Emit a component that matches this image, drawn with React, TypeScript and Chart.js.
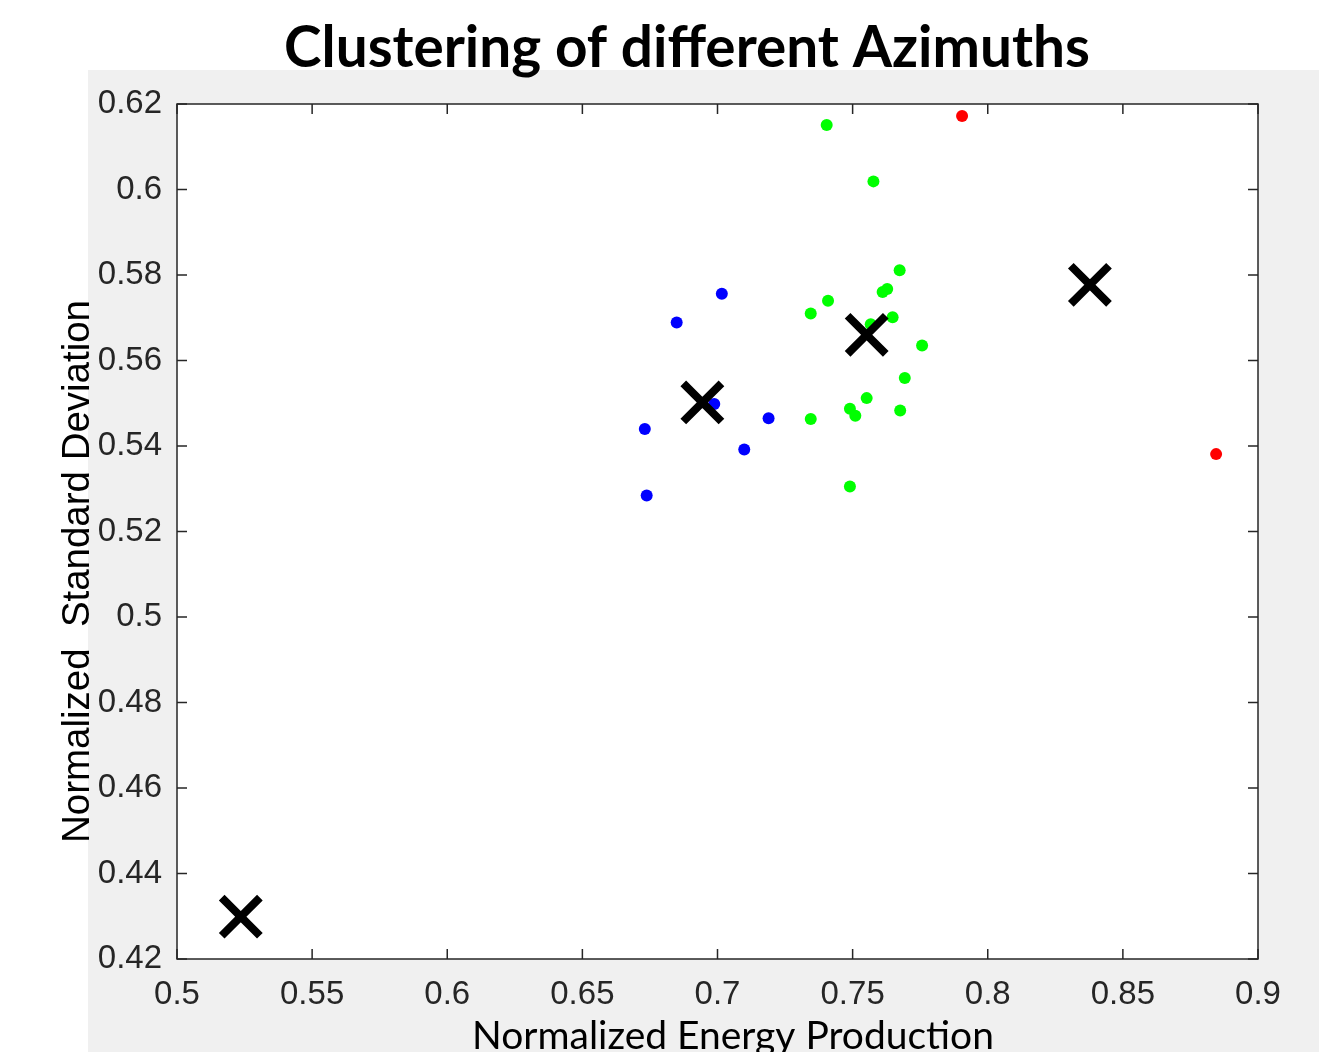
import React, { useEffect, useRef } from 'react';
import { Chart, registerables } from 'chart.js';

Chart.register(...registerables);

const TITLE = 'Clustering of different Azimuths';
const X_TITLE = 'Normalized Energy Production';
const Y_TITLE = 'Normalized  Standard Deviation';

const xTickValues = [0.5, 0.55, 0.6, 0.65, 0.7, 0.75, 0.8, 0.85, 0.9];
const xTickLabels = ['0.5', '0.55', '0.6', '0.65', '0.7', '0.75', '0.8', '0.85', '0.9'];
const yTickValues = [0.42, 0.44, 0.46, 0.48, 0.5, 0.52, 0.54, 0.56, 0.58, 0.6, 0.62];
const yTickLabels = ['0.42', '0.44', '0.46', '0.48', '0.5', '0.52', '0.54', '0.56', '0.58', '0.6', '0.62'];

const blueX = [0.6731, 0.6738, 0.6849, 0.6988, 0.7016, 0.7099, 0.7189];
const blueY = [0.544, 0.5284, 0.5689, 0.5498, 0.5756, 0.5392, 0.5465];

const greenX = [0.7404, 0.7577, 0.7674, 0.7611, 0.7628, 0.7409, 0.7345, 0.7648, 0.7567, 0.7757, 0.7693, 0.7552, 0.749, 0.751, 0.7676, 0.7345, 0.749];
const greenY = [0.6151, 0.6019, 0.5811, 0.576, 0.5767, 0.574, 0.571, 0.5701, 0.5685, 0.5635, 0.5559, 0.5512, 0.5487, 0.5471, 0.5483, 0.5463, 0.5305];

const redX = [0.7905, 0.8845];
const redY = [0.6172, 0.5381];

const centroidX = [0.7552, 0.6944, 0.8378, 0.5236];
const centroidY = [0.566, 0.5502, 0.5777, 0.4299];

const TICK_FONT = "'Liberation Sans', Arial, sans-serif";
const TICK_COLOR = '#262626';

const pts = (xs: number[], ys: number[]) => xs.map((x, i) => ({ x, y: ys[i] }));

const labelFor = (values: number[], labels: string[]) => (v: any) => {
  const i = values.findIndex((t) => Math.abs(t - Number(v)) < 1e-9);
  return i >= 0 ? labels[i] : '';
};

function fitSize(ctx: CanvasRenderingContext2D, text: string, weight: string, family: string, target: number) {
  ctx.font = `${weight} 100px ${family}`;
  const w = ctx.measureText(text).width;
  return (100 * target) / w;
}

const decorPlugin = {
  id: 'decor',
  beforeDraw(chart: any) {
    const { ctx, width, height, chartArea: a } = chart;
    ctx.save();
    ctx.fillStyle = '#ffffff';
    ctx.fillRect(0, 0, width, height);
    ctx.fillStyle = '#f0f0f0';
    ctx.fillRect(88, 70, width - 88, height - 70);
    ctx.fillStyle = '#ffffff';
    ctx.fillRect(a.left, a.top, a.right - a.left, a.bottom - a.top);
    ctx.restore();
  },
  afterDraw(chart: any) {
    const { ctx, chartArea: a, scales } = chart;
    ctx.save();
    ctx.strokeStyle = TICK_COLOR;
    ctx.lineWidth = 1.5;
    ctx.strokeRect(a.left, a.top, a.right - a.left, a.bottom - a.top);
    const L = 10;
    ctx.beginPath();
    scales.x.ticks.forEach((t: any) => {
      const px = scales.x.getPixelForValue(t.value);
      ctx.moveTo(px, a.bottom);
      ctx.lineTo(px, a.bottom - L);
      ctx.moveTo(px, a.top);
      ctx.lineTo(px, a.top + L);
    });
    scales.y.ticks.forEach((t: any) => {
      const py = scales.y.getPixelForValue(t.value);
      ctx.moveTo(a.left, py);
      ctx.lineTo(a.left + L, py);
      ctx.moveTo(a.right, py);
      ctx.lineTo(a.right - L, py);
    });
    ctx.stroke();

    // main title
    ctx.fillStyle = '#000000';
    ctx.textAlign = 'center';
    ctx.textBaseline = 'alphabetic';
    const tFam = "Lato, 'Open Sans', sans-serif";
    const ts = fitSize(ctx, TITLE, 'bold', tFam, 806);
    ctx.font = `bold ${ts}px ${tFam}`;
    ctx.fillText(TITLE, 687, 67);

    // x axis title
    const xs = fitSize(ctx, X_TITLE, 'normal', tFam, 522);
    ctx.font = `normal ${xs}px ${tFam}`;
    ctx.fillText(X_TITLE, 733, 1049);

    // y axis title
    const ys = fitSize(ctx, Y_TITLE, 'normal', TICK_FONT, 543);
    ctx.font = `normal ${ys}px ${TICK_FONT}`;
    ctx.translate(89, 571.5);
    ctx.rotate(-Math.PI / 2);
    ctx.fillText(Y_TITLE, 0, 0);
    ctx.restore();
  },
};

export default function App() {
  const ref = useRef<HTMLCanvasElement | null>(null);

  useEffect(() => {
    if (!ref.current) return;
    const chart = new Chart(ref.current, {
      type: 'scatter',
      data: {
        datasets: [
          {
            label: 'Centroids',
            data: pts(centroidX, centroidY),
            pointStyle: 'crossRot',
            pointRadius: 27,
            pointBorderWidth: 8,
            borderColor: '#000000',
            backgroundColor: '#000000',
          },
          {
            label: 'Cluster 1',
            data: pts(blueX, blueY),
            pointRadius: 6,
            pointBorderWidth: 0,
            backgroundColor: '#0000ff',
            borderColor: '#0000ff',
          },
          {
            label: 'Cluster 2',
            data: pts(greenX, greenY),
            pointRadius: 6,
            pointBorderWidth: 0,
            backgroundColor: '#00ff00',
            borderColor: '#00ff00',
          },
          {
            label: 'Cluster 3',
            data: pts(redX, redY),
            pointRadius: 6,
            pointBorderWidth: 0,
            backgroundColor: '#ff0000',
            borderColor: '#ff0000',
          },
        ],
      } as any,
      options: {
        responsive: false,
        animation: false,
        events: [],
        layout: { padding: { top: 104, right: 61, left: 0, bottom: 0 } },
        plugins: {
          legend: { display: false },
          tooltip: { enabled: false },
          title: { display: false },
        },
        scales: {
          x: {
            type: 'linear',
            min: 0.5,
            max: 0.9,
            grid: { display: false, drawTicks: false },
            border: { display: false },
            afterBuildTicks: (s: any) => {
              s.ticks = xTickValues.map((value) => ({ value }));
            },
            afterFit: (s: any) => {
              s.height = 93;
            },
            ticks: {
              font: { family: TICK_FONT, size: 33 },
              color: TICK_COLOR,
              padding: 16,
              maxRotation: 0,
              autoSkip: false,
              callback: labelFor(xTickValues, xTickLabels),
            },
          },
          y: {
            type: 'linear',
            min: 0.42,
            max: 0.62,
            grid: { display: false, drawTicks: false },
            border: { display: false },
            afterBuildTicks: (s: any) => {
              s.ticks = yTickValues.map((value) => ({ value }));
            },
            afterFit: (s: any) => {
              s.width = 177;
            },
            ticks: {
              font: { family: TICK_FONT, size: 33 },
              color: TICK_COLOR,
              padding: 15,
              autoSkip: false,
              callback: labelFor(yTickValues, yTickLabels),
            },
          },
        },
      } as any,
      plugins: [decorPlugin],
    });
    return () => chart.destroy();
  }, []);

  return (
    <div style={{ position: 'absolute', left: 0, top: 0, width: 1319, height: 1052 }}>
      <canvas ref={ref} width={1319} height={1052} style={{ display: 'block' }} />
    </div>
  );
}
